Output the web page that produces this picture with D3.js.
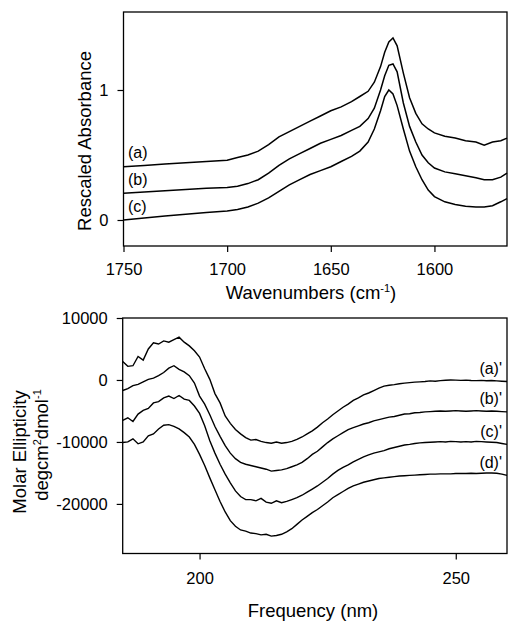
<!DOCTYPE html>
<html>
<head>
<meta charset="utf-8">
<script src="https://cdn.jsdelivr.net/npm/d3@7"></script>
<style>
  body { margin: 0; background: #fff; }
  svg { font-family: "Liberation Sans", Arial, sans-serif; }
  text { fill: #000; }
</style>
</head>
<body>
<svg width="508" height="623"></svg>
<script>
// data - top panel (FTIR)
let wavenumbers = [1750, 1740, 1730, 1720, 1710, 1700, 1695, 1690, 1685, 1680, 1675, 1670, 1665, 1660, 1655, 1650, 1645, 1640, 1636, 1632,
  1629, 1626, 1624, 1622, 1620, 1618, 1615, 1612, 1609, 1606, 1603, 1600, 1595, 1590, 1585, 1580, 1576, 1572, 1568, 1565]
let absA = [0.41, 0.42, 0.43, 0.44, 0.45, 0.46, 0.48, 0.50, 0.53, 0.58, 0.64, 0.68, 0.72, 0.76, 0.80, 0.84, 0.87, 0.91, 0.95, 0.99,
  1.06, 1.18, 1.29, 1.37, 1.40, 1.34, 1.13, 0.94, 0.82, 0.74, 0.70, 0.67, 0.645, 0.63, 0.61, 0.60, 0.575, 0.60, 0.61, 0.63]
let absB = [0.205, 0.215, 0.225, 0.235, 0.245, 0.25, 0.26, 0.28, 0.31, 0.36, 0.42, 0.47, 0.51, 0.55, 0.59, 0.62, 0.65, 0.69, 0.72, 0.78,
  0.86, 1.00, 1.11, 1.19, 1.20, 1.14, 0.90, 0.72, 0.60, 0.50, 0.44, 0.40, 0.37, 0.355, 0.34, 0.325, 0.31, 0.31, 0.33, 0.36]
let absC = [0.00, 0.015, 0.03, 0.045, 0.058, 0.07, 0.08, 0.10, 0.13, 0.17, 0.22, 0.27, 0.31, 0.35, 0.38, 0.41, 0.45, 0.49, 0.53, 0.60,
  0.70, 0.84, 0.95, 1.00, 0.97, 0.88, 0.70, 0.53, 0.41, 0.31, 0.23, 0.18, 0.14, 0.12, 0.105, 0.10, 0.10, 0.11, 0.14, 0.165]
let topLabels = ['(a)', '(b)', '(c)']
let topXTicks = [1750, 1700, 1650, 1600]
let topYTicks = [0, 1]

// data - bottom panel (CD), 185..260 nm every 1 nm
let wavelengths = d3.range(185, 261)
let cdA = [3000, 2200, 2300, 3800, 3200, 5000, 6000, 5800, 6300, 6100, 6500, 6900, 6100, 5500, 4700, 3700, 1800, 100, -2200, -3700,
  -5800, -7000, -8000, -8700, -9300, -9700, -9600, -9900, -10100, -10200, -10000, -10200, -10100, -9900, -9600, -9200, -8700, -8200, -7600, -6900,
  -6300, -5600, -5000, -4400, -3900, -3300, -2900, -2400, -2100, -1700, -1300, -1000, -850, -750, -600, -500, -420, -350, -300, -250,
  -150, -200, -100, -50, 0, -30, -60, -20, -80, -100, -60, -120, -90, -150, -200, -250]
let cdB = [-1700, -1400, -900, -700, -300, 100, 300, 700, 1200, 1900, 2300, 1700, 1300, 700, -500, -2600, -3900, -5600, -7500, -9100,
  -10600, -11800, -12700, -13300, -13600, -13800, -14000, -14200, -14400, -14700, -14600, -14500, -14300, -14000, -13700, -13300, -12700, -12000, -11500, -10800,
  -10100, -9500, -9000, -8500, -8000, -7700, -7400, -7100, -6900, -6600, -6400, -6200, -6000, -5900, -5700, -5500, -5450, -5300, -5250, -5150,
  -5100, -5050, -5000, -5050, -5000, -4950, -5000, -5050, -5000, -4950, -5000, -5050, -5000, -5050, -5100, -5150]
let cdC = [-6500, -6100, -6700, -5500, -4900, -4600, -3700, -3500, -2900, -2600, -3000, -2500, -3100, -3300, -4200, -5400, -7400, -9800, -11800, -13600,
  -15200, -16600, -17900, -18800, -19300, -19300, -19500, -19100, -19700, -19900, -19500, -19800, -19600, -19300, -19000, -18600, -18100, -17600, -17100, -16500,
  -15900, -15200, -14600, -14100, -13700, -13200, -12800, -12400, -12100, -11800, -11600, -11400, -11100, -10900, -10700, -10500, -10400, -10250, -10150, -10100,
  -10050, -10000, -9950, -10000, -9900, -9950, -10000, -9950, -10000, -9900, -9950, -10000, -10050, -10100, -10250, -10400]
let cdD = [-10100, -10000, -9500, -10300, -10000, -9000, -8700, -7900, -7300, -7200, -7500, -7900, -8500, -9200, -10400, -12000, -13800, -15800, -17700, -19600,
  -21300, -22700, -23600, -24200, -24400, -24700, -24800, -25000, -24900, -25200, -25100, -24900, -24500, -24000, -23300, -22600, -22000, -21400, -20900, -20300,
  -19700, -19000, -18500, -18000, -17500, -17100, -16800, -16500, -16300, -16100, -15900, -15800, -15700, -15600, -15500, -15450, -15400, -15350, -15300, -15250,
  -15200, -15200, -15150, -15150, -15150, -15100, -15100, -15100, -15050, -15100, -15050, -15000, -15000, -15050, -15200, -15400]
let bottomLabels = ["(a)'", "(b)'", "(c)'", "(d)'"]
let bottomXTicks = [200, 250]
let bottomYTicks = [10000, 0, -10000, -20000]

let svg = d3.select('svg')
let plain = d => String(d)

// ---------- top panel ----------
let x1 = d3.scaleLinear().domain([1750, 1565]).range([123.5, 507])
let y1 = d3.scaleLinear().domain([-0.2, 1.6]).range([246, 12])

let topPanel = svg.append('g')

topPanel.append('g')
  .attr('transform', 'translate(0,246)')
  .call(d3.axisBottom(x1).tickValues(topXTicks).tickFormat(plain).tickSize(6).tickPadding(11).tickSizeOuter(0))
topPanel.append('g')
  .attr('transform', 'translate(123.5,0)')
  .call(d3.axisLeft(y1).tickValues(topYTicks).tickFormat(plain).tickSize(6).tickPadding(9).tickSizeOuter(0))

topPanel.append('rect')
  .attr('x', 123.5).attr('y', 12)
  .attr('width', 507 - 123.5).attr('height', 246 - 12)
  .attr('fill', 'none').attr('stroke', '#000').attr('stroke-width', 1.3)

let line1 = d3.line().x((d, i) => x1(wavenumbers[i])).y(d => y1(d))
let topSeries = [absA, absB, absC]
topSeries.forEach(s => {
  topPanel.append('path')
    .attr('d', line1(s))
    .attr('fill', 'none').attr('stroke', '#000').attr('stroke-width', 1.5)
})

topSeries.forEach((s, i) => {
  topPanel.append('text')
    .attr('x', 128)
    .attr('y', y1(s[0]) - 14)
    .attr('dy', '0.35em')
    .attr('font-size', '16px')
    .text(topLabels[i])
})

topPanel.append('text')
  .attr('x', 311).attr('y', 299)
  .attr('text-anchor', 'middle')
  .attr('font-size', '18.5px')
  .html('Wavenumbers (cm<tspan dy="-7" font-size="11px">-1</tspan><tspan dy="7">)</tspan>')

topPanel.append('text')
  .attr('transform', 'translate(85,141) rotate(-90)')
  .attr('text-anchor', 'middle')
  .attr('dy', '0.35em')
  .attr('font-size', '18.5px')
  .text('Rescaled Absorbance')

// ---------- bottom panel ----------
let x2 = d3.scaleLinear().domain([185, 260]).range([122.7, 507])
let y2 = d3.scaleLinear().domain([-28000, 10000]).range([553.5, 318])

let botPanel = svg.append('g')

botPanel.append('g')
  .attr('transform', 'translate(0,553.5)')
  .call(d3.axisBottom(x2).tickValues(bottomXTicks).tickFormat(plain).tickSize(6).tickPadding(13).tickSizeOuter(0))
botPanel.append('g')
  .attr('transform', 'translate(122.7,0)')
  .call(d3.axisLeft(y2).tickValues(bottomYTicks).tickFormat(plain).tickSize(6).tickPadding(9).tickSizeOuter(0))

botPanel.append('rect')
  .attr('x', 122.7).attr('y', 318)
  .attr('width', 507 - 122.7).attr('height', 553.5 - 318)
  .attr('fill', 'none').attr('stroke', '#000').attr('stroke-width', 1.3)

let line2 = d3.line().x((d, i) => x2(wavelengths[i])).y(d => y2(d))
let bottomSeries = [cdA, cdB, cdC, cdD]
bottomSeries.forEach(s => {
  botPanel.append('path')
    .attr('d', line2(s))
    .attr('fill', 'none').attr('stroke', '#000').attr('stroke-width', 1.4)
})

bottomSeries.forEach((s, i) => {
  botPanel.append('text')
    .attr('x', 502)
    .attr('y', y2(s[s.length - 1]) - 13)
    .attr('dy', '0.35em')
    .attr('text-anchor', 'end')
    .attr('font-size', '16px')
    .text(bottomLabels[i])
})

botPanel.append('text')
  .attr('x', 313).attr('y', 617)
  .attr('text-anchor', 'middle')
  .attr('font-size', '18.5px')
  .text('Frequency (nm)')

botPanel.append('text')
  .attr('transform', 'translate(20,452) rotate(-90)')
  .attr('text-anchor', 'middle')
  .attr('dy', '0.35em')
  .attr('font-size', '18.5px')
  .text('Molar Ellipticity')

botPanel.append('text')
  .attr('transform', 'translate(42,445) rotate(-90)')
  .attr('text-anchor', 'middle')
  .attr('dy', '0.35em')
  .attr('font-size', '18.5px')
  .html('degcm<tspan dy="-7" font-size="11px">2</tspan><tspan dy="7">dmol</tspan><tspan dy="-7" font-size="11px">-1</tspan>')

// axis text styling
svg.selectAll('.tick text').attr('font-size', '16.5px').attr('font-family', '"Liberation Sans", Arial, sans-serif').attr('fill', '#000')
svg.selectAll('.tick line').attr('stroke', '#000').attr('stroke-width', 1.2)
svg.selectAll('.domain').remove()
</script>
</body>
</html>
